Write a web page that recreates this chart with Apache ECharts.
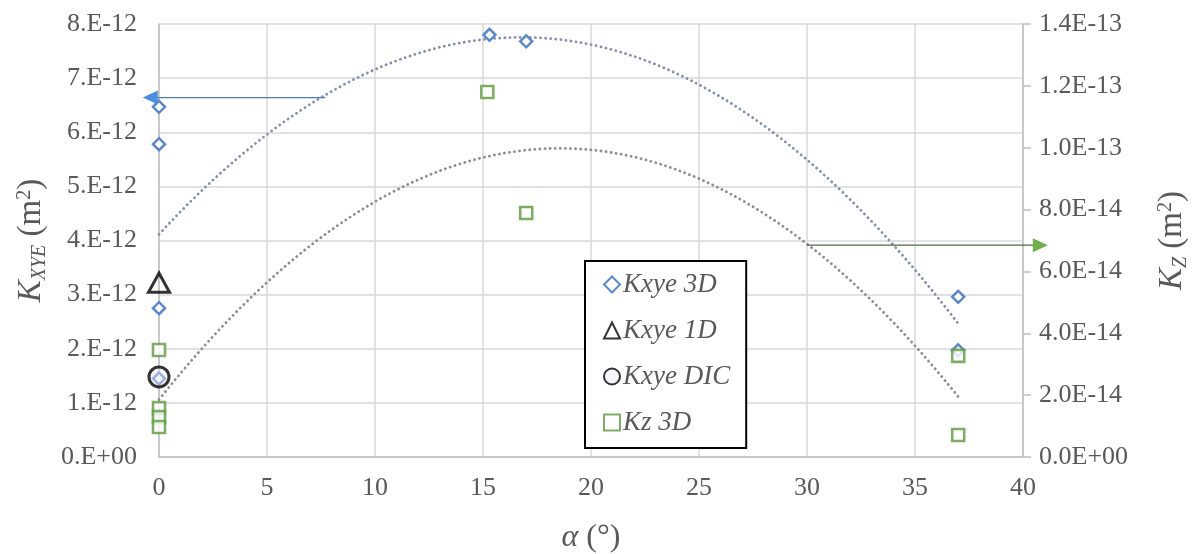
<!DOCTYPE html>
<html>
<head>
<meta charset="utf-8">
<script src="https://cdn.jsdelivr.net/npm/echarts@6/dist/echarts.min.js"></script>
<style>
  html, body { margin: 0; padding: 0; background: #ffffff; }
  #chart { width: 1197px; height: 554px; }
</style>
</head>
<body>
<div id="chart"></div>
<script>
// Permeability versus angle alpha (degrees)
const alpha3D   = [0, 0, 0, 0, 15.3, 17, 37, 37];
const kxye3D    = [6.47e-12, 5.78e-12, 2.75e-12, 1.45e-12, 7.80e-12, 7.68e-12, 2.96e-12, 1.97e-12];
const alpha1D   = [0];
const kxye1D    = [3.22e-12];
const alphaDIC  = [0];
const kxyeDIC   = [1.48e-12];
const alphaKz   = [0, 0, 0, 0, 15.2, 17, 37, 37];
const kz3D      = [3.46e-14, 1.58e-14, 1.29e-14, 0.97e-14, 1.18e-13, 7.89e-14, 3.27e-14, 0.71e-14];

const xTicks = [0, 5, 10, 15, 20, 25, 30, 35, 40];
const seriesNames = ['Kxye 3D', 'Kxye 1D', 'Kxye DIC', 'Kz 3D'];

// callout arrows: [from alpha, to alpha, value, axis index]
const callouts = [
  { from: 7.7, to: -0.75, value: 6.64e-12, yAxis: 0, line: '#4a7ebb', head: '#4a8fdb' },
  { from: 30.0, to: 41.15, value: 6.85e-14, yAxis: 1, line: '#4f6b40', head: '#6fb04a' }
];

const SERIF = '"Liberation Serif", "Times New Roman", serif';
const GREY = '#595959';

function pairs(xs, ys) { return xs.map((x, i) => [x, ys[i]]); }

// least-squares polynomial of degree 2 (same as a spreadsheet trendline)
function quadFit(xs, ys) {
  let S = [0, 0, 0, 0, 0], T = [0, 0, 0];
  for (let i = 0; i < xs.length; i++) {
    let p = 1;
    for (let k = 0; k < 5; k++) { S[k] += p; if (k < 3) T[k] += p * ys[i]; p *= xs[i]; }
  }
  const A = [[S[0], S[1], S[2], T[0]], [S[1], S[2], S[3], T[1]], [S[2], S[3], S[4], T[2]]];
  for (let c = 0; c < 3; c++) {
    let piv = c;
    for (let r = c + 1; r < 3; r++) if (Math.abs(A[r][c]) > Math.abs(A[piv][c])) piv = r;
    [A[c], A[piv]] = [A[piv], A[c]];
    for (let r = 0; r < 3; r++) {
      if (r === c) continue;
      const f = A[r][c] / A[c][c];
      for (let k = c; k < 4; k++) A[r][k] -= f * A[c][k];
    }
  }
  const coef = [A[0][3] / A[0][0], A[1][3] / A[1][1], A[2][3] / A[2][2]];
  return x => coef[0] + coef[1] * x + coef[2] * x * x;
}

function trendPoints(xs, ys) {
  const f = quadFit(xs, ys);
  const lo = Math.min(...xs), hi = Math.max(...xs);
  const pts = [];
  for (let x = lo; x <= hi + 1e-9; x += 0.25) pts.push([x, f(x)]);
  return pts;
}

function expLabel(v, digits) {
  if (Math.abs(v) < 1e-30) return digits === 0 ? '0.E+00' : '0.0E+00';
  const s = v.toExponential(digits).split('e');
  const e = parseInt(s[1], 10);
  const mant = digits === 0 ? s[0] + '.' : s[0];
  return mant + 'E' + (e < 0 ? '-' : '+') + String(Math.abs(e)).padStart(2, '0');
}

const chart = echarts.init(document.getElementById('chart'), null, { renderer: 'canvas' });

const titleRich = {
  k:   { fontFamily: SERIF, fontSize: 33, fontStyle: 'italic', color: GREY },
  sub: { fontFamily: SERIF, fontSize: 20, fontStyle: 'italic', color: GREY, verticalAlign: 'bottom', padding: [0, 0, -2, 0] },
  n:   { fontFamily: SERIF, fontSize: 33, color: GREY },
  sup: { fontFamily: SERIF, fontSize: 20, color: GREY, verticalAlign: 'top' }
};

const option = {
  backgroundColor: '#ffffff',
  animation: false,
  grid: { left: 159, right: 174, top: 24, bottom: 97, containLabel: false, outerBoundsMode: 'none' },
  legend: {
    orient: 'vertical',
    left: 585,
    top: 261,
    width: 150,
    padding: [10, 16, 12, 18],
    itemGap: 19,
    itemWidth: 16,
    itemHeight: 16,
    borderColor: '#000000',
    borderWidth: 2,
    backgroundColor: '#ffffff',
    textStyle: { fontFamily: SERIF, fontSize: 27, fontStyle: 'italic', color: GREY, padding: [0, 0, 0, -2] },
    data: seriesNames
  },
  xAxis: {
    type: 'value',
    min: xTicks[0],
    max: xTicks[xTicks.length - 1],
    interval: 5,
    name: '{a|α} (°)',
    nameLocation: 'middle',
    nameGap: 65,
    nameTextStyle: {
      fontFamily: SERIF, fontSize: 32, color: GREY,
      rich: { a: { fontFamily: SERIF, fontSize: 32, fontStyle: 'italic', color: GREY } }
    },
    axisLine: { show: true, onZero: false, lineStyle: { color: '#bfbfbf', width: 1.5 } },
    axisTick: { show: false },
    axisLabel: { fontFamily: SERIF, fontSize: 26, color: GREY, margin: 18 },
    splitLine: { show: true, lineStyle: { color: '#d9d9d9', width: 1.5 } }
  },
  yAxis: [
    {
      type: 'value',
      min: 0,
      max: 8e-12,
      interval: 1e-12,
      position: 'left',
      name: '{k|K}{sub|XYE}{n| (m}{sup|2}{n|)}',
      nameLocation: 'middle',
      nameRotate: 90,
      nameGap: 101,
      nameTextStyle: { rich: titleRich },
      axisLine: { show: true, onZero: false, lineStyle: { color: '#bfbfbf', width: 1.5 } },
      axisTick: { show: false },
      axisLabel: { fontFamily: SERIF, fontSize: 26, color: GREY, margin: 22, formatter: v => expLabel(v, 0) },
      splitLine: { show: true, lineStyle: { color: '#d9d9d9', width: 1.5 } }
    },
    {
      type: 'value',
      min: 0,
      max: 1.4e-13,
      interval: 2e-14,
      position: 'right',
      name: '{k|K}{sub|Z}{n| (m}{sup|2}{n|)}',
      nameLocation: 'middle',
      nameRotate: 90,
      nameGap: 133,
      nameTextStyle: { rich: titleRich },
      axisLine: { show: true, onZero: false, lineStyle: { color: '#bfbfbf', width: 1.5 } },
      axisTick: { show: true, inside: false, length: 8, lineStyle: { color: '#bfbfbf', width: 1.5 } },
      axisLabel: { fontFamily: SERIF, fontSize: 26, color: GREY, margin: 16, formatter: v => expLabel(v, 1) },
      splitLine: { show: false }
    }
  ],
  series: [
    {
      name: 'trend Kxye 3D',
      type: 'line',
      yAxisIndex: 0,
      data: trendPoints(alpha3D, kxye3D),
      showSymbol: false,
      silent: true,
      clip: false,
      z: 1,
      lineStyle: { color: '#8390ad', width: 2.8, type: [0.1, 5], cap: 'round' }
    },
    {
      name: 'trend Kz 3D',
      type: 'line',
      yAxisIndex: 1,
      data: trendPoints(alphaKz, kz3D),
      showSymbol: false,
      silent: true,
      clip: false,
      z: 1,
      lineStyle: { color: '#8a8f88', width: 2.8, type: [0.1, 5], cap: 'round' }
    },
    {
      name: seriesNames[0],
      type: 'scatter',
      yAxisIndex: 0,
      data: pairs(alpha3D, kxye3D),
      symbol: 'diamond',
      symbolSize: 12,
      clip: false,
      z: 3,
      itemStyle: { color: '#ffffff', borderColor: '#5b88c8', borderWidth: 2.5, opacity: 1 }
    },
    {
      name: seriesNames[1],
      type: 'scatter',
      yAxisIndex: 0,
      data: pairs(alpha1D, kxye1D),
      symbol: 'triangle',
      symbolSize: [21, 19],
      clip: false,
      z: 4,
      itemStyle: { color: 'rgba(255,255,255,0)', borderColor: '#000000', borderWidth: 3 }
    },
    {
      name: seriesNames[2],
      type: 'scatter',
      yAxisIndex: 0,
      data: pairs(alphaDIC, kxyeDIC),
      symbol: 'circle',
      symbolSize: 20,
      clip: false,
      z: 4,
      itemStyle: { color: 'rgba(235,232,250,0.55)', borderColor: '#000000', borderWidth: 3 }
    },
    {
      name: seriesNames[3],
      type: 'scatter',
      yAxisIndex: 1,
      data: pairs(alphaKz, kz3D),
      symbol: 'rect',
      symbolSize: 12,
      clip: false,
      z: 5,
      itemStyle: { color: '#ffffff', borderColor: '#5e9a3e', borderWidth: 2.6 }
    }
  ]
};

chart.setOption(option);

// callout arrows placed through the axes' own scales
const graphics = [];
callouts.forEach(c => {
  const finder = { xAxisIndex: 0, yAxisIndex: c.yAxis };
  const p0 = chart.convertToPixel(finder, [c.from, c.value]);
  const p1 = chart.convertToPixel(finder, [c.to, c.value]);
  const dir = Math.sign(p1[0] - p0[0]);
  const headLen = 15, headHalf = 7;
  graphics.push({
    type: 'line',
    z: 10,
    shape: { x1: p0[0], y1: p0[1], x2: p1[0] - dir * headLen * 0.6, y2: p1[1] },
    style: { stroke: c.line, lineWidth: 1.4 }
  });
  graphics.push({
    type: 'polygon',
    z: 11,
    shape: { points: [[p1[0], p1[1]], [p1[0] - dir * headLen, p1[1] - headHalf], [p1[0] - dir * headLen, p1[1] + headHalf]] },
    style: { fill: c.head, stroke: null }
  });
});
chart.setOption({ graphic: graphics });
</script>
</body>
</html>
